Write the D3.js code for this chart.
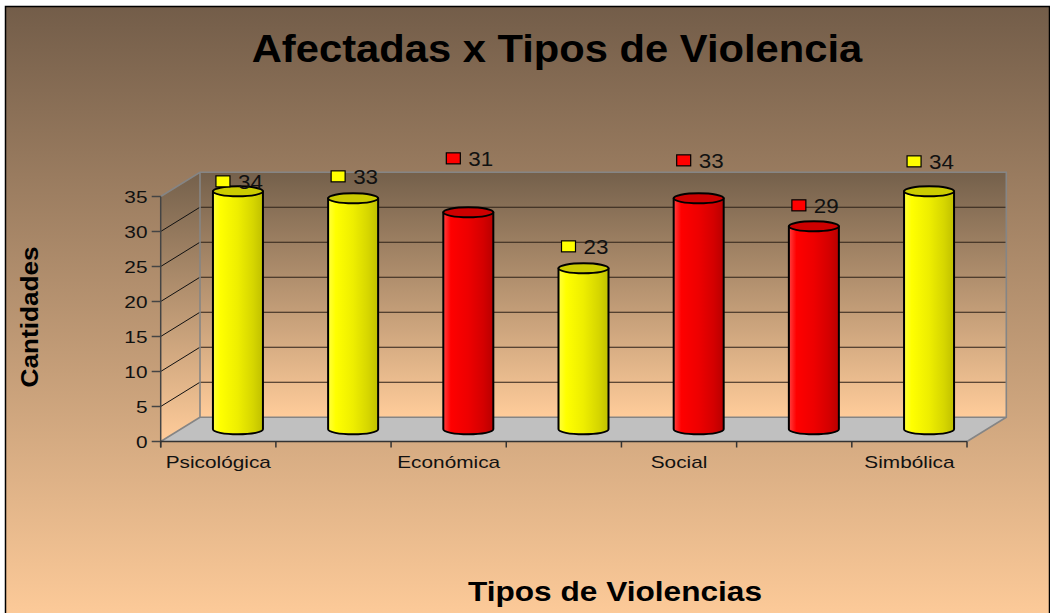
<!DOCTYPE html>
<html>
<head>
<meta charset="utf-8">
<script src="https://cdn.jsdelivr.net/npm/d3@7"></script>
<style>
  html, body { margin: 0; padding: 0; background: #ffffff; }
  svg { display: block; font-family: "Liberation Sans", Arial, sans-serif; }
</style>
</head>
<body>
<svg id="chart" width="1050" height="613"></svg>
<script>
// ---- data ----
const tickLabels = ["Psicológica", "", "Económica", "", "Social", "", "Simbólica"];
const values = [34, 33, 31, 23, 33, 29, 34];
const tones = ["yellow", "yellow", "red", "yellow", "red", "red", "yellow"];
const yTicks = [0, 5, 10, 15, 20, 25, 30, 35];

const titleText = "Afectadas x Tipos de Violencia";
const yTitleText = "Cantidades";
const xTitleText = "Tipos de Violencias";

// ---- layout ----
const W = 1050, H = 613;
const front = { left: 160.7, right: 967, bottom: 441.5, top: 196.5 };
const depth = { dx: 39.3, dy: -24.3 };        // offset from front plane to back wall
const barRadius = 25, capRy = 5;
const labelLift = [10, 22, 54, 22, 38, 21, 30]; // px above each bar top

const palette = {
  yellow: { top: "#cccc00", stops: ["#ffff40", "#ffff00", "#eeee00", "#d6d600", "#c0c000"] },
  red:    { top: "#cc0000", stops: ["#ff4040", "#ff0000", "#ee0000", "#d40000", "#b80000"] }
};

const svg = d3.select("#chart");
const defs = svg.append("defs");

// background gradient
function vGrad(id, c0, c1) {
  const g = defs.append("linearGradient").attr("id", id)
    .attr("x1", 0).attr("y1", 0).attr("x2", 0).attr("y2", 1);
  g.append("stop").attr("offset", 0).attr("stop-color", c0);
  g.append("stop").attr("offset", 1).attr("stop-color", c1);
}
vGrad("bg", "#735d49", "#ffcc9a");
vGrad("wall", "#74604b", "#ffcc9a");

Object.entries(palette).forEach(([k, p]) => {
  const g = defs.append("linearGradient").attr("id", "body-" + k)
    .attr("x1", 0).attr("y1", 0).attr("x2", 1).attr("y2", 0);
  [0, 0.15, 0.5, 0.8, 1].forEach((o, i) =>
    g.append("stop").attr("offset", o).attr("stop-color", p.stops[i]));
});

// ---- scales ----
const x = d3.scaleBand().domain(d3.range(values.length))
  .range([front.left, front.right]).paddingInner(0).paddingOuter(0);
const y = d3.scaleLinear().domain([0, 35]).range([front.bottom, front.top]);

// frame
svg.append("rect").attr("x", 5.5).attr("y", 6.5).attr("width", 1044).attr("height", 620)
  .attr("fill", "url(#bg)").attr("stroke", "#000").attr("stroke-width", 1.5);

// back wall
const bx0 = front.left + depth.dx, bx1 = front.right + depth.dx;
const by0 = y(0) + depth.dy, by1 = y(35) + depth.dy;
svg.append("rect").attr("x", bx0).attr("y", by1).attr("width", bx1 - bx0).attr("height", by0 - by1)
  .attr("fill", "url(#wall)");

// side wall
svg.append("path")
  .attr("d", `M${front.left},${y(0)} L${front.left},${y(35)} L${bx0},${by1} L${bx0},${by0} Z`)
  .attr("fill", "url(#wall)");

// floor
svg.append("path")
  .attr("d", `M${front.left},${y(0)} L${bx0},${by0} L${bx1},${by0} L${front.right},${y(0)} Z`)
  .attr("fill", "#c0c0c0");

// gridlines on back wall and side wall
const grid = yTicks.filter(v => v > 0 && v < 35);
svg.append("g").selectAll("line").data(grid).join("line")
  .attr("x1", bx0).attr("x2", bx1)
  .attr("y1", v => y(v) + depth.dy).attr("y2", v => y(v) + depth.dy)
  .attr("stroke", "#2e2218").attr("stroke-width", 1.1);
svg.append("g").selectAll("line").data(grid).join("line")
  .attr("x1", front.left).attr("x2", bx0)
  .attr("y1", v => y(v)).attr("y2", v => y(v) + depth.dy)
  .attr("stroke", "#111").attr("stroke-width", 1);

// wall edges
const edge = "#858585";
svg.append("path")
  .attr("d", `M${front.left},${y(35)} L${bx0},${by1} L${bx1},${by1} L${bx1},${by0} L${front.right},${y(0)}
              M${bx0},${by1} L${bx0},${by0} L${bx1},${by0} M${bx0},${by0} L${front.left},${y(0)}`)
  .attr("fill", "none").attr("stroke", edge).attr("stroke-width", 1.6);

// y axis
const yAxis = svg.append("g");
yAxis.append("line").attr("x1", front.left).attr("x2", front.left)
  .attr("y1", y(35)).attr("y2", y(0) + 6).attr("stroke", "#444").attr("stroke-width", 1.5);
yAxis.selectAll("line.tick").data(yTicks).join("line").attr("class", "tick")
  .attr("x1", front.left - 9).attr("x2", front.left)
  .attr("y1", d => y(d)).attr("y2", d => y(d)).attr("stroke", "#444").attr("stroke-width", 1.5);
yAxis.selectAll("text").data(yTicks).join("text")
  .attr("transform", d => `translate(147.5,${y(d) + 6}) scale(1.3,1)`)
  .attr("text-anchor", "end").attr("font-size", 16).attr("fill", "#111")
  .text(d => d);

// x axis
const xAxis = svg.append("g");
xAxis.append("line").attr("x1", front.left).attr("x2", front.right)
  .attr("y1", y(0)).attr("y2", y(0)).attr("stroke", "#333").attr("stroke-width", 1.5);
const bounds = d3.range(values.length + 1).map(i => front.left + i * x.bandwidth());
xAxis.selectAll("line.tick").data(bounds).join("line").attr("class", "tick")
  .attr("x1", d => d).attr("x2", d => d)
  .attr("y1", y(0)).attr("y2", y(0) + 6).attr("stroke", "#333").attr("stroke-width", 1.5);
xAxis.selectAll("text").data(tickLabels).join("text")
  .attr("transform", (d, i) => `translate(${x(i) + x.bandwidth() / 2},468) scale(1.3,1)`)
  .attr("text-anchor", "middle").attr("font-size", 16).attr("fill", "#111")
  .text(d => d);

// bars (cylinders standing at mid depth)
const bars = svg.append("g");
values.forEach((v, i) => {
  const cx = x(i) + x.bandwidth() / 2 + depth.dx / 2;
  const yb = y(0) + depth.dy / 2;
  const yt = y(v) + depth.dy / 2;
  const l = cx - barRadius, r = cx + barRadius;
  const g = bars.append("g");
  g.append("path")
    .attr("d", `M${l},${yt} L${l},${yb} A${barRadius},${capRy} 0 0 0 ${r},${yb} L${r},${yt} Z`)
    .attr("fill", `url(#body-${tones[i]})`)
    .attr("stroke", "#000").attr("stroke-width", 2).attr("stroke-linejoin", "round");
  g.append("ellipse").attr("cx", cx).attr("cy", yt).attr("rx", barRadius).attr("ry", capRy)
    .attr("fill", palette[tones[i]].top)
    .attr("stroke", "#000").attr("stroke-width", 2);

  // value label with colour key
  const ly = yt - labelLift[i];
  const sx = cx - 22;
  g.append("rect").attr("x", sx).attr("y", ly - 5.5).attr("width", 14).attr("height", 11)
    .attr("fill", tones[i] === "yellow" ? "#ffff00" : "#ff0000")
    .attr("stroke", "#000").attr("stroke-width", 1.2);
  g.append("text")
    .attr("transform", `translate(${sx + 22},${ly + 7.5}) scale(1.12,1)`)
    .attr("font-size", 20).attr("fill", "#111").text(v);
});

// titles
svg.append("text")
  .attr("transform", "translate(557,62) scale(1.07,1)")
  .attr("text-anchor", "middle").attr("font-size", 39).attr("font-weight", "bold")
  .attr("fill", "#000").text(titleText);

svg.append("text")
  .attr("transform", "translate(37.5,317) rotate(-90) scale(1.09,1)")
  .attr("text-anchor", "middle").attr("font-size", 24).attr("font-weight", "bold")
  .attr("fill", "#000").text(yTitleText);

svg.append("text")
  .attr("transform", "translate(615,600.5) scale(1.13,1)")
  .attr("text-anchor", "middle").attr("font-size", 28).attr("font-weight", "bold")
  .attr("fill", "#000").text(xTitleText);
</script>
</body>
</html>
